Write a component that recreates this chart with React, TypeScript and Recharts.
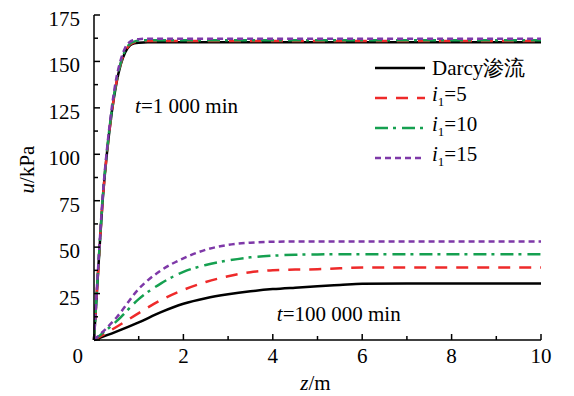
import React from 'react'
import { LineChart, Line, XAxis, YAxis, Legend, ReferenceDot } from 'recharts'

// depth z (m) sampled for the two time levels
const zEarly = [0, 0.1, 0.2, 0.3, 0.4, 0.5, 0.6, 0.7, 0.8, 0.9, 1.0, 1.2, 1.5, 2, 4, 6, 8, 10]
const zLate = [0, 0.5, 1, 1.5, 2, 2.5, 3, 3.5, 4, 4.5, 5, 5.5, 6, 7, 8, 9, 10]

// t = 1 000 min
const darcyEarly = [0, 40, 77, 103, 123, 138, 148.5, 155, 158.5, 159.7, 160.1, 160.3, 160.3, 160.3, 160.3, 160.3, 160.3, 160.3]
const i5Early = [0, 40, 77, 103, 123, 138.5, 149, 155.5, 159, 160.3, 160.8, 161, 161, 161, 161, 161, 161, 161]
const i10Early = [0, 41, 78, 104, 124, 139, 149.5, 156, 159.5, 160.7, 161.2, 161.4, 161.4, 161.4, 161.4, 161.4, 161.4, 161.4]
const i15Early = [0, 42, 79, 105, 125.5, 141, 151, 157.5, 160.5, 161.6, 162, 162.2, 162.2, 162.2, 162.2, 162.2, 162.2, 162.2]

// t = 100 000 min
const darcyLate = [0, 4.5, 9.5, 15, 19.5, 22.5, 24.6, 26.2, 27.4, 28.2, 28.9, 29.6, 30.3, 30.4, 30.4, 30.4, 30.4]
const i5Late = [0, 7, 14.5, 21.5, 27, 31.2, 34.3, 36.5, 37.6, 37.9, 38.1, 38.6, 39, 39, 39, 39, 39]
const i10Late = [0, 10, 22, 30.5, 36.7, 40.4, 42.8, 44.5, 45.4, 45.9, 46.1, 46.2, 46.2, 46.2, 46.2, 46.2, 46.2]
const i15Late = [0, 12, 27.5, 37.5, 44, 48.6, 51.2, 52.4, 52.9, 53, 53, 53, 53, 53, 53, 53, 53]

const xTicks = [0, 1, 2, 3, 4, 5, 6, 7, 8, 9, 10]
const yTicks = [0, 12.5, 25, 37.5, 50, 62.5, 75, 87.5, 100, 112.5, 125, 137.5, 150, 162.5, 175]

const serif = "'Liberation Serif', 'Times New Roman', Times, 'Noto Serif', FreeSerif, 'DejaVu Serif', serif"
const fontSize = 21

const toPoints = (zs: number[], us: number[]) => zs.map((z, k) => ({ z, u: us[k] }))

const series = [
  { key: 'darcy', gradient: 0, color: '#000000', dash: undefined, early: darcyEarly, late: darcyLate },
  { key: 'i5', gradient: 5, color: '#ee2a2a', dash: '12 9', early: i5Early, late: i5Late },
  { key: 'i10', gradient: 10, color: '#15a050', dash: '13 5 3 6', early: i10Early, late: i10Late },
  { key: 'i15', gradient: 15, color: '#7e38a8', dash: '6 4', early: i15Early, late: i15Late },
]

const YTick = ({ x, y, payload }: any) => {
  const major = payload.value % 25 === 0
  return (
    <g>
      <line x1={x} y1={y} x2={x + (major ? 6 : 4)} y2={y} stroke="#000" strokeWidth={1.5} />
      {major && payload.value !== 0 && (
        <text x={x - 14} y={y + 11} textAnchor="end" fontSize={fontSize} style={{ fontFamily: serif }} fill="#000">
          {payload.value}
        </text>
      )}
    </g>
  )
}

const XTick = ({ x, y, payload }: any) => {
  const major = payload.value % 2 === 0
  const isZero = payload.value === 0
  return (
    <g>
      <line x1={x} y1={y} x2={x} y2={y - (major ? 6 : 4)} stroke="#000" strokeWidth={1.5} />
      {major && (
        <text
          x={isZero ? x - 11 : x}
          y={y + 23}
          textAnchor={isZero ? 'end' : 'middle'}
          fontSize={fontSize}
          style={{ fontFamily: serif }}
          fill="#000"
        >
          {payload.value}
        </text>
      )}
    </g>
  )
}

const renderLegend = () => (
  <div style={{ fontFamily: serif, fontSize, color: '#000' }}>
    {series.map((s) => (
      <div key={s.key} style={{ display: 'flex', alignItems: 'center', height: 30 }}>
        <svg width={50} height={6}>
          <line x1={0} y1={3} x2={50} y2={3} stroke={s.color} strokeWidth={2.5} strokeDasharray={s.dash} />
        </svg>
        <span style={{ marginLeft: 7, lineHeight: '20px' }}>
          {s.gradient === 0 ? (
            'Darcy渗流'
          ) : (
            <>
              <i>i</i>
              <sub style={{ fontSize: 13 }}>1</sub>={s.gradient}
            </>
          )}
        </span>
      </div>
    ))}
  </div>
)

const timeLabel = (text: string) => (props: any) => {
  const { viewBox } = props
  return (
    <text x={viewBox.x} y={viewBox.y} fontSize={fontSize} style={{ fontFamily: serif }} fill="#000">
      <tspan fontStyle="italic">t</tspan>
      {text}
    </text>
  )
}

export default function App() {
  return (
    <div style={{ position: 'absolute', left: 0, top: 0, background: '#fff' }}>
      <LineChart width={574} height={396} margin={{ top: 15, right: 33, bottom: 16, left: 0 }}>
        <XAxis
          type="number"
          dataKey="z"
          domain={[0, 10]}
          ticks={xTicks}
          interval={0}
          tick={<XTick />}
          tickLine={false}
          tickSize={0}
          tickMargin={0}
          axisLine={{ stroke: '#000', strokeWidth: 1.5 }}
          height={40}
          label={(props: any) => {
            const vb = props.viewBox
            return (
              <text x={vb.x + vb.width / 2 - 2} y={vb.y + 50} textAnchor="middle" fontSize={fontSize} style={{ fontFamily: serif }} fill="#000">
                <tspan fontStyle="italic">z</tspan>/m
              </text>
            )
          }}
        />
        <YAxis
          type="number"
          dataKey="u"
          domain={[0, 175]}
          ticks={yTicks}
          interval={0}
          tick={<YTick />}
          tickLine={false}
          tickSize={0}
          tickMargin={0}
          axisLine={{ stroke: '#000', strokeWidth: 1.5 }}
          width={94}
          label={(props: any) => {
            const vb = props.viewBox
            const cx = vb.x + 34
            const cy = vb.y + vb.height / 2 - 8
            return (
              <text x={cx} y={cy} transform={`rotate(-90 ${cx} ${cy})`} textAnchor="middle" fontSize={fontSize} style={{ fontFamily: serif }} fill="#000">
                <tspan fontStyle="italic">u</tspan>/kPa
              </text>
            )
          }}
        />
        {series.map((s) => (
          <Line
            key={s.key + '-early'}
            data={toPoints(zEarly, s.early)}
            dataKey="u"
            type="monotone"
            stroke={s.color}
            strokeWidth={2.5}
            strokeDasharray={s.dash}
            dot={false}
            isAnimationActive={false}
            legendType="none"
          />
        ))}
        {series.map((s) => (
          <Line
            key={s.key + '-late'}
            data={toPoints(zLate, s.late)}
            dataKey="u"
            type="monotone"
            stroke={s.color}
            strokeWidth={2.5}
            strokeDasharray={s.dash}
            dot={false}
            isAnimationActive={false}
            legendType="none"
          />
        ))}
        <ReferenceDot x={0.92} y={122} r={0} stroke="none" fill="none" label={timeLabel('=1 000 min')} />
        <ReferenceDot x={4.09} y={10} r={0} stroke="none" fill="none" label={timeLabel('=100 000 min')} />
        <Legend
          layout="vertical"
          align="center"
          verticalAlign="middle"
          content={renderLegend}
          wrapperStyle={{ top: 53, left: 375, width: 190 }}
        />
      </LineChart>
    </div>
  )
}
